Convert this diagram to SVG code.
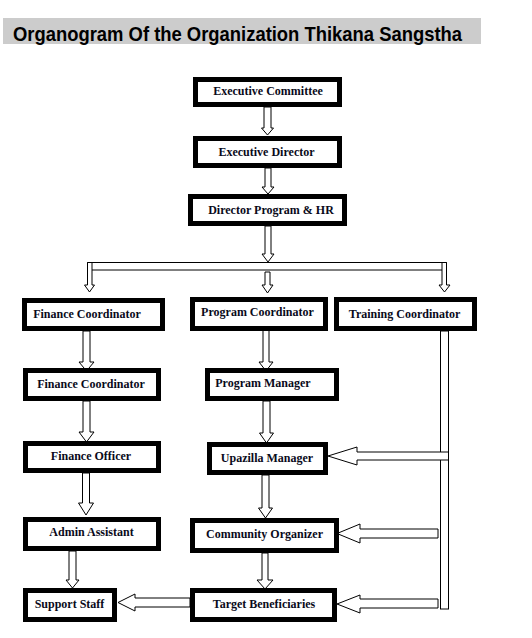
<svg xmlns="http://www.w3.org/2000/svg" width="532" height="638" viewBox="0 0 532 638">
<style>
.box{fill:#fff;stroke:#000;stroke-width:5}
.lbl{font-family:"Liberation Serif","Times New Roman",serif;font-weight:bold;font-size:12px;fill:#0a0a1a;text-anchor:middle}
.arr{fill:#fff;stroke:#000;stroke-width:1}
.title{font-family:"Liberation Sans",Arial,sans-serif;font-weight:bold;font-size:21px;fill:#000}
</style>
<rect x="0" y="0" width="532" height="638" fill="#fff"/>
<g id="title">
<rect x="3" y="18" width="478" height="26" fill="#cccccc"/>
<text class="title" x="13" y="41" textLength="449" lengthAdjust="spacingAndGlyphs">Organogram Of the Organization Thikana Sangstha</text>
</g>
<g id="connectors">
<polygon class="arr" points="264,107 271,107 271,128 273.5,128 267.5,135 261.5,128 264,128"/>
<polygon class="arr" points="265,168 271,168 271,187 274,187 268,194 262,187 265,187"/>
<polygon class="arr" points="265,226 271,226 271,254 274,254 268,262 262,254 265,254"/>
<rect class="arr" x="87.5" y="262.5" width="359" height="7.5"/>
<polygon class="arr" points="87.5,262.5 92,262.5 92,285 94.5,285 89.5,292 84.5,285 87.5,285"/>
<polygon class="arr" points="265,272 270,272 270,285 273,285 267.5,293 262,285 265,285"/>
<polygon class="arr" points="442,262.5 446.5,262.5 446.5,285 450,285 444.5,292 439,285 442,285"/>
<polygon class="arr" points="83,331 90,331 90,362 94,362 86.5,371 79,362 83,362"/>
<polygon class="arr" points="83,401 90,401 90,432 94,432 86.5,442 79,432 83,432"/>
<polygon class="arr" points="82.5,473 89.5,473 89.5,503 93.5,503 86,515 78.5,503 82.5,503"/>
<polygon class="arr" points="69,551 76,551 76,580 79,580 72.5,588 66,580 69,580"/>
<polygon class="arr" points="263,330 269,330 269,362 273,362 266,371 259,362 263,362"/>
<polygon class="arr" points="263,401 270,401 270,433 273.5,433 266.5,443 259.5,433 263,433"/>
<polygon class="arr" points="262,475 269,475 269,508 272.5,508 265.5,518 258.5,508 262,508"/>
<polygon class="arr" points="262,553 268,553 268,580 273,580 265,589 257,580 262,580"/>
<rect class="arr" x="440.5" y="331" width="8" height="278"/>
<polygon class="arr" points="448.5,452 357,452 357,447 328,456 357,465 357,460 448.5,460"/>
<polygon class="arr" points="438,529 360,529 360,524 337,533.5 360,543 360,538 438,538"/>
<polygon class="arr" points="438,599 360,599 360,595 337,604 360,613 360,608 438,608"/>
<polygon class="arr" points="190,598 135,598 135,594 118,602.5 135,611 135,607 190,607"/>
</g>
<g id="executive-committee"><rect class="box" x="195.5" y="79.5" width="144" height="25"/><text class="lbl" x="268" y="95">Executive Committee</text></g>
<g id="executive-director"><rect class="box" x="195.5" y="138.5" width="144" height="27"/><text class="lbl" x="266.5" y="156">Executive Director</text></g>
<g id="director-program-hr"><rect class="box" x="190.5" y="196.5" width="154" height="27"/><text class="lbl" x="271" y="214">Director Program &amp; HR</text></g>
<g id="finance-coordinator-1"><rect class="box" x="24.5" y="300.5" width="138" height="28"/><text class="lbl" x="87" y="318">Finance Coordinator</text></g>
<g id="program-coordinator"><rect class="box" x="192.5" y="299.5" width="133" height="29"/><text class="lbl" x="257.5" y="316">Program Coordinator</text></g>
<g id="training-coordinator"><rect class="box" x="336.5" y="299.5" width="138" height="29"/><text class="lbl" x="404.5" y="318">Training Coordinator</text></g>
<g id="finance-coordinator-2"><rect class="box" x="25.5" y="370.5" width="133" height="28"/><text class="lbl" x="91" y="388">Finance Coordinator</text></g>
<g id="program-manager"><rect class="box" x="207.5" y="370.5" width="129" height="28"/><text class="lbl" x="263" y="387">Program Manager</text></g>
<g id="finance-officer"><rect class="box" x="25.5" y="443.5" width="133" height="27"/><text class="lbl" x="91" y="460">Finance Officer</text></g>
<g id="upazilla-manager"><rect class="box" x="209.5" y="444.5" width="116" height="28"/><text class="lbl" x="267" y="462">Upazilla Manager</text></g>
<g id="admin-assistant"><rect class="box" x="25.5" y="519.5" width="133" height="29"/><text class="lbl" x="91.5" y="536">Admin Assistant</text></g>
<g id="community-organizer"><rect class="box" x="192.5" y="520.5" width="144" height="30"/><text class="lbl" x="264.5" y="538">Community Organizer</text></g>
<g id="support-staff"><rect class="box" x="25.5" y="590.5" width="89" height="29"/><text class="lbl" x="69.5" y="608">Support Staff</text></g>
<g id="target-beneficiaries"><rect class="box" x="192.5" y="590.5" width="142" height="29"/><text class="lbl" x="264" y="608">Target Beneficiaries</text></g>
</svg>
